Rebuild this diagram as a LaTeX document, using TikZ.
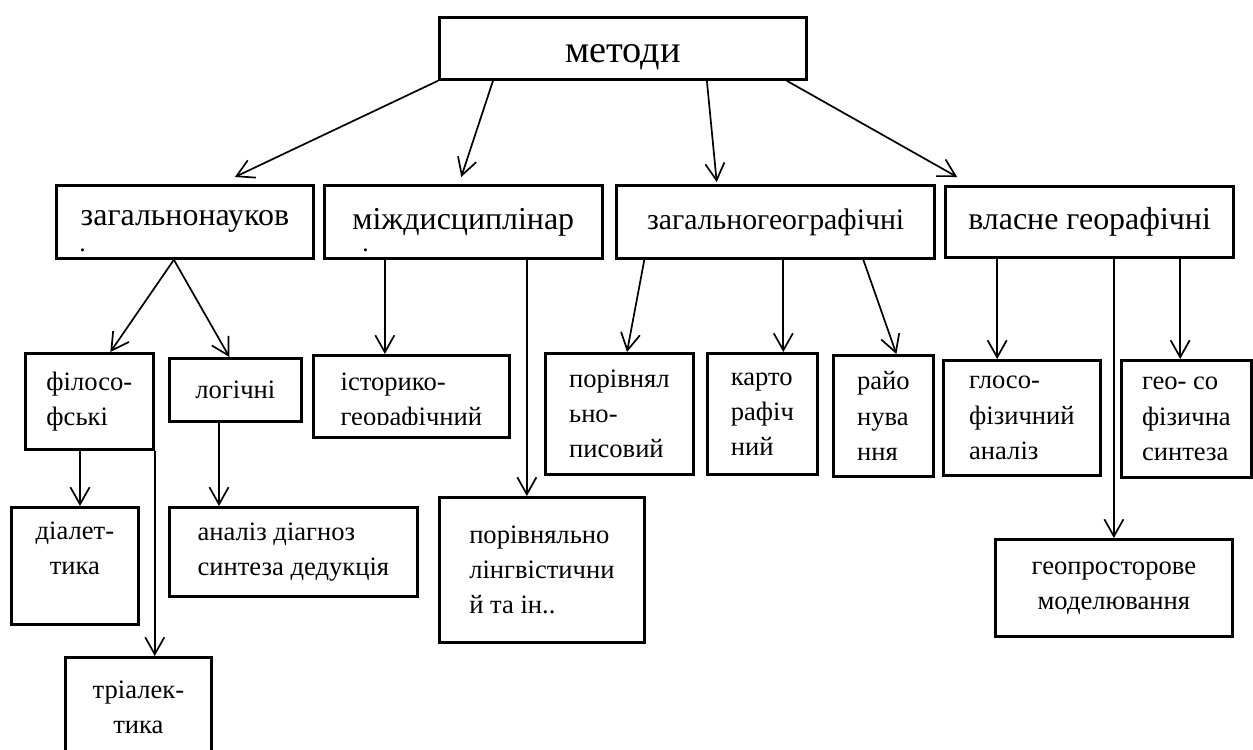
\documentclass[tikz,border=0pt]{standalone}
\usepackage{fontspec}
\setmainfont{Liberation Serif}
\usetikzlibrary{arrows.meta}
\usetikzlibrary{positioning}
\usetikzlibrary{calc}
\newcommand{\pxu}{0.47pt}
\newcommand{\lvl}{\fontsize{15}{17}\selectfont}
\newcommand{\sml}{\fontsize{12.5}{16.5}\selectfont}
\tikzset{box/.style={draw,rectangle,line width=1.3pt,anchor=north west,inner sep=0pt,align=left,font=\sml}}
\tikzset{wh/.style 2 args={minimum width=#1*\pxu,minimum height=#2*\pxu}}

\begin{document}
\begin{tikzpicture}[%
		x = \pxu, y = -\pxu, % pixel grid, y runs down
		> = {Straight Barb[length=8pt,width=9pt]}, % arrow head style
		arr/.style = {->, line width=0.8pt}, % connector style
		]
		\useasboundingbox (0,0) rectangle (1253,749);
		
		% top
		\node[box, wh={367}{62}, font=\fontsize{18}{21}\selectfont, text height=17pt] (met) at (438,16) {методи};
		
		% second row
		\node[box, wh={257}{73}, font=\lvl] (zag) at (55,184) {загальнонауков};
		\node[box, wh={278}{73}, font=\lvl, right=3.8pt of zag] (mizh) {міждисциплінар};
		\node[box, wh={318}{73}, font=\fontsize{14}{16}\selectfont, right=5.5pt of mizh] (zg) {загальногеографічні};
		\node[box, wh={288}{71}, font=\lvl, right=3.8pt of zg] (vl) {власне георафічні};
		% what is left of the cut second lines
		\node[anchor=base west, inner sep=0pt, font=\fontsize{12}{12}\selectfont] (zagdot) at ($(zag.south west)+(24,-8)$) {.};
		\node[anchor=base west, inner sep=0pt, font=\fontsize{12}{12}\selectfont] (mizhdot) at ($(mizh.south west)+(39,-8)$) {.};
		
		% third row
		\node[box, wh={128}{96}] (fil) at (24,352) {філосо-\\фські};
		\node[box, wh={132}{63}] (log) at (168,357) {логічні};
		\node[box, wh={196}{82}] (hist) at (312,354) {};
		\begin{scope}
			\clip (hist.north west) rectangle ($(hist.south east)+(0,-14)$);
			\node[font=\sml, align=left] (histtxt) at ($(hist.center)+(0,6)$) {історико-\\георафічний};
		\end{scope}
		\node[box, wh={148}{121}] (pp) at (544,352) {порівнял\\ьно-\\писовий};
		\node[box, wh={110}{121}] (kar) at (706,352) {карто\\рафіч\\ний};
		\node[box, wh={100}{121}] (rai) at (832,354) {райо\\нува\\ння};
		\node[box, wh={157}{115}] (glo) at (942,359) {глосо-\\фізичний\\аналіз};
		\node[box, wh={130}{117}] (gs) at (1120,359) {гео- со\\фізична\\синтеза};
		
		% fourth row
		\node[box, wh={127}{117}, align=center] (dial) at (10,506) {діалет-\\тика\\ \mbox{}};
		\node[box, wh={248}{89}] (an) at (168,506) {аналіз діагноз\\синтеза дедукція};
		\node[box, wh={205}{145}] (lin) at (438,496) {порівняльно\\лінгвістични\\й та ін..};
		\node[box, wh={146}{100}, align=center] (tri) at (64,656) {тріалек-\\тика};
		\node[box, wh={237}{97}, align=center] (geop) at (994,538) {геопросторове\\моделювання};
		
		% from the top
		\draw[arr] (met.south west) -- ($(zag.north)+(50,-7)$);
		\draw[arr] ($(met.south west)+(55,0)$) -- ($(mizh.north)+(-2,-7)$);
		\draw[arr] ($(met.south)+(84,0)$) -- ($(zg.north)+(-59,-2)$);
		\draw[arr] ($(met.south east)+(-21,0)$) -- ($(vl.north west)+(13,-8)$);
		
		% second row down
		\draw[arr] ($(zag.south)+(-11,0)$) -- ($(fil.north)+(21,0)$);
		\draw[arr] ($(zag.south)+(-11,0)$) -- ($(log.north)+(-6,0)$);
		\coordinate (m1) at ($(mizh.south west)+(62,0)$);
		\coordinate (m2) at ($(mizh.south west)+(204,0)$);
		\draw[arr] (m1) -- (m1 |- hist.north);
		\draw[arr] (m2) -- (m2 |- lin.north);
		\coordinate (g2) at ($(zg.south west)+(168,0)$);
		\draw[arr] ($(zg.south west)+(29,0)$) -- ($(pp.north west)+(83,0)$);
		\draw[arr] (g2) -- (g2 |- kar.north);
		\draw[arr] ($(zg.south west)+(248,0)$) -- ($(rai.north)+(13,0)$);
		\coordinate (v1) at ($(vl.south west)+(53,0)$);
		\coordinate (v3) at ($(vl.south west)+(236,0)$);
		\draw[arr] (v1) -- (v1 |- glo.north);
		\draw[arr] (geop.north |- vl.south) -- (geop.north);
		\draw[arr] (v3) -- (v3 |- gs.north);
		
		% third row down
		\coordinate (f1) at ($(fil.south west)+(56,0)$);
		\coordinate (l1) at ($(log.south west)+(51,0)$);
		\draw[arr] (f1) -- (f1 |- dial.north);
		\draw[arr] (fil.south east) -- (fil.south east |- tri.north);
		\draw[arr] (l1) -- (l1 |- an.north);
\end{tikzpicture}
\end{document}
